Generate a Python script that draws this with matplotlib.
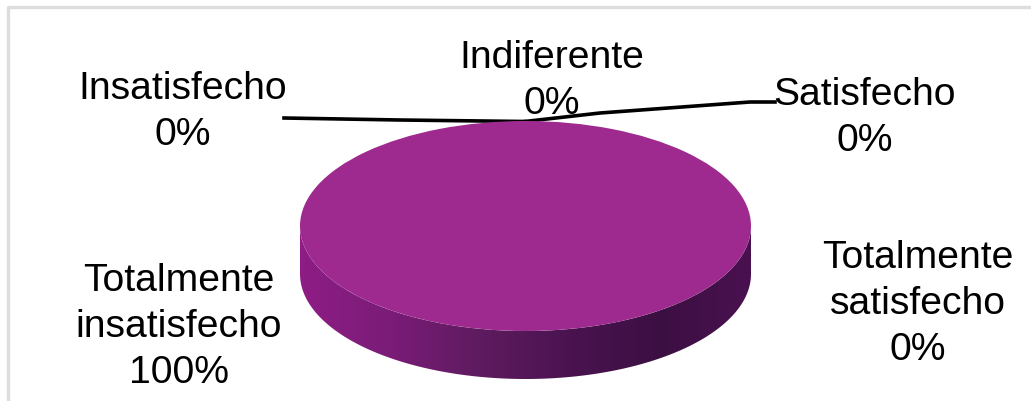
import numpy as np
import matplotlib
matplotlib.use("Agg")
import matplotlib.pyplot as plt
from matplotlib.colors import LinearSegmentedColormap
from matplotlib.patches import Polygon

categories = ["Totalmente\ninsatisfecho", "Insatisfecho", "Indiferente", "Satisfecho", "Totalmente\nsatisfecho"]
values = [100, 0, 0, 0, 0]
top_colors = ["#9F2A8F", "#9F2A8F", "#9F2A8F", "#9F2A8F", "#9F2A8F"]
side_stops = ["#8E1D85", "#7A1C78", "#5E1B5F", "#4A1350", "#3C0F42", "#4A1150"]

W, H = 1031, 402
fig = plt.figure(figsize=(W / 100, H / 100), dpi=100)
bg = fig.add_axes([0, 0, 1, 1])
bg.set_xlim(0, W)
bg.set_ylim(H, 0)
bg.axis("off")

# Outer chart frame: left and top edges only are visible
bg.plot([8, 8, W], [H, 7.5, 7.5], color="#DDDDDD", lw=2.4, solid_capstyle="butt")

# Pie geometry in pixels
cx, cy, rx, ry, depth = 525.5, 227, 225.5, 105, 48

# Side wall of the disc
t = np.linspace(0, np.pi, 200)
xs = cx + rx * np.cos(t)
yt = cy + ry * np.sin(t)
poly = np.column_stack([np.r_[xs, xs[::-1]], np.r_[yt, (yt + depth)[::-1]]])
clip = Polygon(poly, closed=True, transform=bg.transData, fc="none", ec="none")
bg.add_patch(clip)
cmap = LinearSegmentedColormap.from_list("side", side_stops)
im = bg.imshow(np.linspace(0, 1, 256)[None, :], cmap=cmap, aspect="auto",
               extent=[cx - rx, cx + rx, cy + ry + depth, cy], zorder=1)
im.set_clip_path(clip)
bg.set_xlim(0, W)
bg.set_ylim(H, 0)

# Top face drawn from the data
pie_ax = fig.add_axes([(cx - rx) / W, 1 - (cy + ry) / H, 2 * rx / W, 2 * ry / H])
pie_ax.pie(values, colors=top_colors, startangle=90, counterclock=False, radius=1,
           wedgeprops=dict(linewidth=0))
pie_ax.set_aspect("auto")
pie_ax.set_xlim(-1, 1)
pie_ax.set_ylim(-1, 1)
pie_ax.patch.set_alpha(0)

# Leader lines
bg.plot([284, 400, 525], [119, 121, 122.5], color="black", lw=2.6, zorder=5)
bg.plot([525, 600, 750, 775], [122.5, 114, 103, 103], color="black", lw=2.6, zorder=5)

# Data labels
label_pos = [(179, 327), (183, 112), (552, 81), (865, 118), (918, 304)]
for name, val, (x, y) in zip(categories, values, label_pos):
    bg.text(x, y, f"{name}\n{val}%", ha="center", va="center", fontsize=28.2,
            family="Liberation Sans", color="black", linespacing=1.36, zorder=6)

fig.savefig("out.png", dpi=100)
